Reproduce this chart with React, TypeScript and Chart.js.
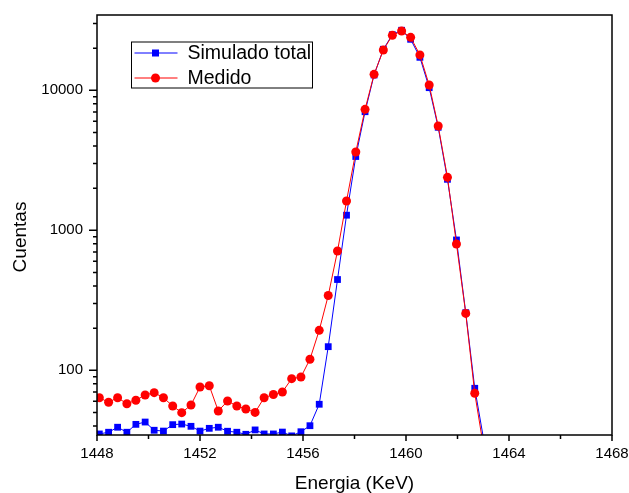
import React, { useEffect, useRef } from 'react';
import { Chart, registerables } from 'chart.js';

Chart.register(...registerables);

// Channel energies (keV)
const energia = [
  1448.09, 1448.45, 1448.80, 1449.16, 1449.51, 1449.87, 1450.22, 1450.58, 1450.94, 1451.29,
  1451.65, 1452.00, 1452.36, 1452.71, 1453.07, 1453.43, 1453.78, 1454.14, 1454.49, 1454.85,
  1455.20, 1455.56, 1455.92, 1456.27, 1456.63, 1456.98, 1457.34, 1457.69, 1458.05, 1458.41,
  1458.76, 1459.12, 1459.47, 1459.83, 1460.18, 1460.54, 1460.90, 1461.25, 1461.61, 1461.96,
  1462.32, 1462.67, 1463.03,
];

const simuladoTotal = [
  35.1, 36.1, 39.2, 36.1, 41.1, 42.7, 37.3, 36.8, 40.9, 41.3,
  39.8, 36.8, 38.5, 39.2, 36.7, 36.1, 34.9, 37.5, 35.1, 35.1,
  36.2, 34, 36.4, 40.2, 57.2, 147.5, 445, 1282, 3365, 7030,
  12860, 19630, 24950, 26840, 23130, 17200, 10440, 5440, 2313, 853,
  258, 74.4, 31,
];

const medido = [
  63.7, 59.1, 63.7, 57.7, 61.1, 66.6, 69.2, 63.7, 55.6, 49.8,
  56.5, 76.0, 77.6, 51.2, 60.3, 55.6, 52.9, 50.0, 63.7, 67.2,
  70.0, 87.1, 89.5, 120, 193, 342, 711, 1619, 3625, 7310,
  13000, 19400, 24700, 26500, 23900, 17900, 10900, 5560, 2390, 798,
  255, 68.5, 27,
];

const xMajorTicks = [1448, 1452, 1456, 1460, 1464, 1468];
const xMinorTicks = [1450, 1454, 1458, 1462, 1466];
const yMajorTicks = [100, 1000, 10000];
const yMinorTicks = [
  40, 50, 60, 70, 80, 90,
  200, 300, 400, 500, 600, 700, 800, 900,
  2000, 3000, 4000, 5000, 6000, 7000, 8000, 9000,
  20000, 30000,
];
const xRange = [1448, 1468];
const yRange = [34.5, 34500];

const seriesNames = ['Simulado total', 'Medido'];
const xTitle = 'Energia (KeV)';
const yTitle = 'Cuentas';
const BLUE = '#0000FF';
const RED = '#FF0000';
const FONT = '"Liberation Sans", Arial, sans-serif';

const framePlugin = {
  id: 'originFrame',
  afterDatasetsDraw(chart: any) {
    const { ctx, chartArea } = chart;
    const { left, right, top, bottom } = chartArea;
    const xs = chart.scales.x;
    const ys = chart.scales.y;
    ctx.save();
    ctx.strokeStyle = '#000';
    ctx.lineWidth = 1.5;
    ctx.strokeRect(left, top, right - left, bottom - top);
    ctx.beginPath();
    xMajorTicks.forEach((v) => {
      const px = xs.getPixelForValue(v);
      ctx.moveTo(px, bottom);
      ctx.lineTo(px, bottom + 6);
    });
    xMinorTicks.forEach((v) => {
      const px = xs.getPixelForValue(v);
      ctx.moveTo(px, bottom);
      ctx.lineTo(px, bottom + 4);
    });
    yMajorTicks.forEach((v) => {
      const py = ys.getPixelForValue(v);
      ctx.moveTo(left, py);
      ctx.lineTo(left - 8, py);
    });
    yMinorTicks.forEach((v) => {
      const py = ys.getPixelForValue(v);
      ctx.moveTo(left, py);
      ctx.lineTo(left - 4, py);
    });
    ctx.stroke();
    ctx.restore();
  },
  afterDraw(chart: any) {
    const { ctx, chartArea } = chart;
    // Y axis title
    ctx.save();
    ctx.fillStyle = '#000';
    ctx.font = `19px ${FONT}`;
    ctx.textAlign = 'center';
    ctx.textBaseline = 'middle';
    ctx.translate(20.5, (chartArea.top + chartArea.bottom) / 2 + 12);
    ctx.rotate(-Math.PI / 2);
    ctx.fillText(yTitle, 0, 0);
    ctx.restore();

    // Legend
    const bx = chartArea.left + 34.5;
    const by = chartArea.top + 27;
    const bw = 181;
    const bh = 46;
    ctx.save();
    ctx.fillStyle = '#fff';
    ctx.fillRect(bx, by, bw, bh);
    ctx.strokeStyle = '#000';
    ctx.lineWidth = 1;
    ctx.strokeRect(bx, by, bw, bh);
    const items = [
      { label: seriesNames[0], color: BLUE, shape: 'rect', y: by + 11 },
      { label: seriesNames[1], color: RED, shape: 'circle', y: by + 36 },
    ];
    items.forEach((it) => {
      ctx.strokeStyle = it.color;
      ctx.lineWidth = 1;
      ctx.beginPath();
      ctx.moveTo(bx + 3, it.y);
      ctx.lineTo(bx + 46, it.y);
      ctx.stroke();
      ctx.fillStyle = it.color;
      const cx = bx + 24;
      if (it.shape === 'rect') {
        ctx.fillRect(cx - 3.5, it.y - 3.5, 7, 7);
      } else {
        ctx.beginPath();
        ctx.arc(cx, it.y, 4.5, 0, Math.PI * 2);
        ctx.fill();
      }
      ctx.fillStyle = '#000';
      ctx.font = `19.5px ${FONT}`;
      ctx.textBaseline = 'middle';
      ctx.textAlign = 'left';
      ctx.fillText(it.label, bx + 56, it.y + 1);
    });
    ctx.restore();
  },
};

export default function App() {
  const canvasRef = useRef<HTMLCanvasElement | null>(null);

  useEffect(() => {
    document.body.style.margin = '0';
    const canvas = canvasRef.current;
    if (!canvas) return;
    const chart = new Chart(canvas, {
      type: 'line',
      data: {
        datasets: [
          {
            label: seriesNames[0],
            data: energia.map((x, i) => ({ x, y: simuladoTotal[i] })),
            borderColor: BLUE,
            backgroundColor: BLUE,
            borderWidth: 1,
            pointStyle: 'rect',
            pointRadius: 4.8,
            pointBorderWidth: 0,
            pointBackgroundColor: BLUE,
            order: 1,
          },
          {
            label: seriesNames[1],
            data: energia.map((x, i) => ({ x, y: medido[i] })),
            borderColor: RED,
            backgroundColor: RED,
            borderWidth: 1,
            pointStyle: 'circle',
            pointRadius: 4.5,
            pointBorderWidth: 0,
            pointBackgroundColor: RED,
            order: 0,
          },
        ],
      },
      options: {
        responsive: false,
        animation: false,
        events: [],
        layout: { padding: { top: 15, right: 17, left: 0, bottom: 0 } },
        plugins: {
          legend: { display: false },
          tooltip: { enabled: false },
        },
        scales: {
          x: {
            type: 'linear',
            min: xRange[0],
            max: xRange[1],
            afterBuildTicks: (s: any) => {
              s.ticks = xMajorTicks.map((v) => ({ value: v }));
            },
            afterFit: (s: any) => {
              s.height = 58;
              s.paddingLeft = 0;
              s.paddingRight = 0;
            },
            grid: { display: true, drawOnChartArea: false, drawTicks: false },
            border: { display: false },
            ticks: {
              padding: 10,
              maxRotation: 0,
              autoSkip: false,
              color: '#000',
              font: { family: FONT, size: 15 },
              callback: (v: any) => String(v),
            },
            title: {
              display: true,
              text: xTitle,
              color: '#000',
              font: { family: FONT, size: 19, lineHeight: 1 },
              padding: { top: 0, bottom: 0 },
            },
          },
          y: {
            type: 'logarithmic',
            min: yRange[0],
            max: yRange[1],
            afterBuildTicks: (s: any) => {
              s.ticks = yMajorTicks.map((v) => ({ value: v }));
            },
            afterFit: (s: any) => {
              s.width = 97;
              s.paddingTop = 0;
              s.paddingBottom = 0;
            },
            grid: { display: true, drawOnChartArea: false, drawTicks: false },
            border: { display: false },
            ticks: {
              padding: 14,
              autoSkip: false,
              color: '#000',
              font: { family: FONT, size: 15 },
              callback: (v: any) => String(v),
            },
            title: { display: false },
          },
        },
      },
      plugins: [framePlugin],
    } as any);
    return () => chart.destroy();
  }, []);

  return (
    <div style={{ position: 'absolute', left: 0, top: 0, width: 629, height: 493 }}>
      <canvas ref={canvasRef} width={629} height={493} style={{ display: 'block' }} />
    </div>
  );
}
